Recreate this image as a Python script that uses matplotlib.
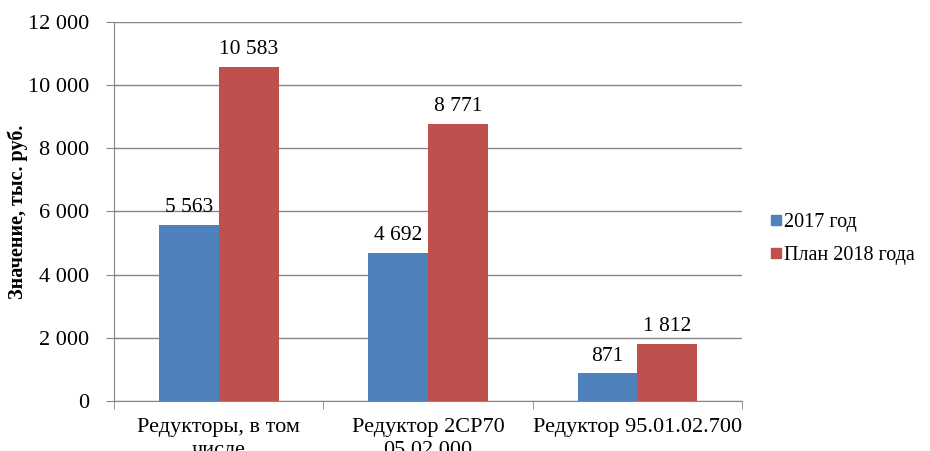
import numpy as np
import matplotlib.pyplot as plt
from matplotlib.lines import Line2D

plt.rcParams['font.family'] = ['Liberation Serif', 'DejaVu Serif']

categories = ['Редукторы, в том\nчисле', 'Редуктор 2СР70\n05.02.000', 'Редуктор 95.01.02.700']
series_names = ['2017 год', 'План 2018 года']
values_2017 = [5563, 4692, 871]
values_2018 = [10583, 8771, 1812]
colors = ['#4F81BD', '#C0504D']


def fmt(v):
    return f'{v:,}'.replace(',', ' ')


fig = plt.figure(figsize=(9.3, 4.51), dpi=100)
ax = fig.add_axes([0.1226, 0.1109, 0.6753, 0.8403])

x = np.arange(len(categories))
w = 0.286
for vals, off, c in zip([values_2017, values_2018], [-w / 2, w / 2], colors):
    bars = ax.bar(x + off, vals, width=w, color=c, zorder=3)
    for b, v in zip(bars, vals):
        ax.text(b.get_x() + b.get_width() / 2, v + 250, fmt(v),
                ha='center', va='bottom', fontsize=15.5)

ax.set_xlim(-0.5, 2.5)
ax.set_ylim(0, 12000)
ax.set_yticks(np.arange(0, 12001, 2000))
ax.set_yticklabels([fmt(v) for v in range(0, 12001, 2000)], fontsize=16)
ax.set_xticks(x)
ax.set_xticklabels(categories, fontsize=16, linespacing=1.3)
ax.set_xticks([-0.5, 0.5, 1.5, 2.5], minor=True)
ax.tick_params(axis='x', which='major', length=0, pad=12)
ax.tick_params(axis='x', which='minor', length=6, color='#868686')
ax.tick_params(axis='y', length=6, color='#868686', pad=12)

ax.grid(axis='y', color='#868686', linewidth=1, zorder=0)
for side in ['top', 'right']:
    ax.spines[side].set_visible(False)
for side in ['left', 'bottom']:
    ax.spines[side].set_color('#868686')

ax.set_ylabel('Значение, тыс. руб.', fontsize=14.5, fontweight='bold', labelpad=0)

handles = [Line2D([], [], marker='s', linestyle='none', markersize=7,
                  markerfacecolor=c, markeredgecolor=c) for c in colors]
fig.legend(handles, series_names, loc='center left', bbox_to_anchor=(0.806, 0.47),
           frameon=False, fontsize=14.5, handletextpad=0.0, handlelength=0.8,
           labelspacing=0.7)

fig.savefig('out.png', dpi=100)
